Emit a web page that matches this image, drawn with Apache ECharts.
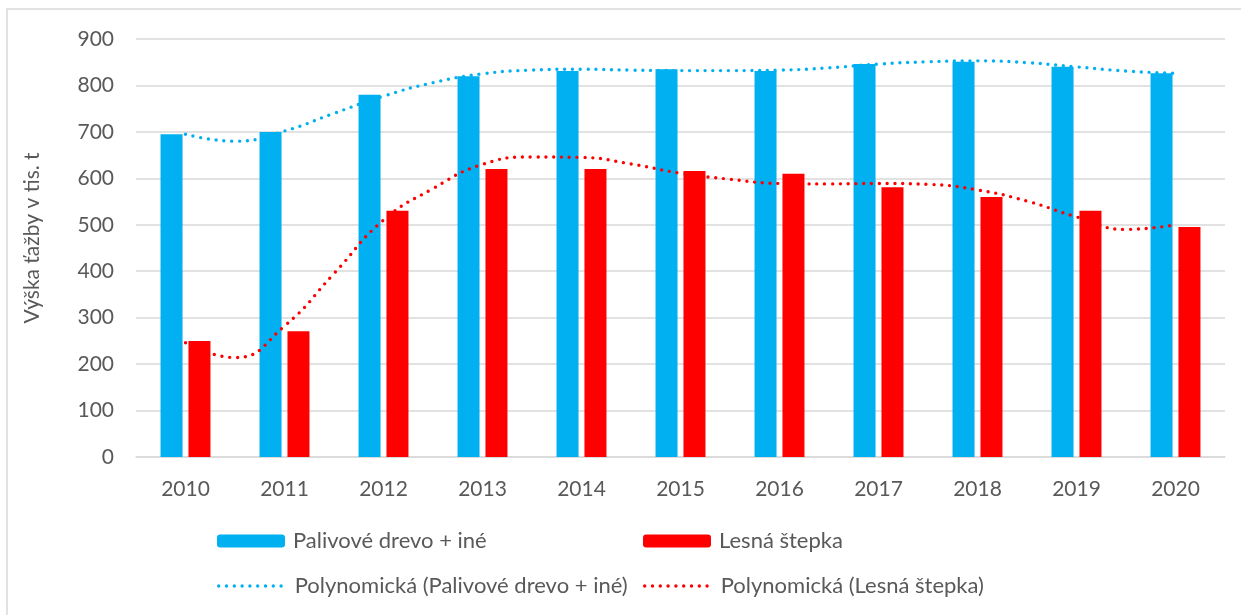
<!DOCTYPE html>
<html>
<head>
<meta charset="utf-8">
<script src="https://cdn.jsdelivr.net/npm/echarts@6/dist/echarts.min.js"></script>
<style>
  html, body { margin: 0; padding: 0; background: #fff; }
  #chart { width: 1241px; height: 615px; }
</style>
</head>
<body>
<div id="chart"></div>
<script>
// roky
var years = ['2010', '2011', '2012', '2013', '2014', '2015', '2016', '2017', '2018', '2019', '2020'];
// tis. t
var palivoveDrevo = [695, 700, 780, 820, 831, 835, 831, 846, 851, 840, 826];
var lesnaStepka = [250, 271, 530, 620, 620, 616, 610, 581, 560, 530, 495];
// polynomicke trendy odcitane z grafu (pozicia v kategoriach, krok 0.5)
var trendPos = [0, 0.5, 1, 1.5, 2, 2.5, 3, 3.5, 4, 4.5, 5, 5.5, 6, 6.5, 7, 7.5, 8, 8.5, 9, 9.5, 10];
var trendPalivove = [695, 680, 702, 740, 777, 806, 825, 833, 835, 833, 832, 832, 833, 838, 846, 851, 853, 849, 840, 831, 826];
var trendStepka = [246, 214, 282, 395, 510, 578, 630, 646, 645, 631, 611, 598, 589, 588, 589, 587, 575, 551, 517, 490, 500];
var yTicks = [0, 100, 200, 300, 400, 500, 600, 700, 800, 900];

var FONT = 'Lato';
var GREY = '#595959';
var BLUE = '#00B0F0';
var RED = '#FF0000';
var DOTS = [0, 7.8];

function pairs(xs, ys) {
    return xs.map(function (x, i) { return [x, ys[i]]; });
}

function legendAt(name, left, top, isLine) {
    var lg = {
        data: [name],
        left: left,
        top: top,
        padding: 0,
        itemWidth: 68,
        itemHeight: 13,
        selectedMode: false,
        textStyle: { fontFamily: FONT, fontSize: 22, color: GREY, padding: [0, 0, 0, 3] }
    };
    if (isLine) {
        // bez symbolu v strede, len bodkovana ciara
        lg.itemStyle = { opacity: 0 };
        lg.lineStyle = { width: 3.4, type: DOTS, cap: 'round' };
    }
    return lg;
}

var myChart = echarts.init(document.getElementById('chart'));
var option = {
    backgroundColor: '#fff',
    animation: false,
    graphic: [{
        type: 'rect',
        shape: { x: 7, y: 9, width: 1250, height: 620 },
        style: { fill: 'none', stroke: '#d9d9d9', lineWidth: 1.5 },
        silent: true
    }],
    legend: [
        legendAt('Palivové drevo + iné', 217, 530),
        legendAt('Lesná štepka', 643, 530),
        legendAt('Polynomická (Palivové drevo + iné)', 217, 575, true),
        legendAt('Polynomická (Lesná štepka)', 643, 575, true)
    ],
    grid: { left: 136, right: 16, top: 39, bottom: 158, containLabel: false },
    xAxis: [{
        type: 'category',
        data: years,
        axisTick: { show: false },
        axisLine: { lineStyle: { color: '#d9d9d9', width: 1.5 } },
        axisLabel: { fontFamily: FONT, fontSize: 21, color: GREY, margin: 22 }
    }, {
        type: 'value',
        min: -0.5,
        max: 10.5,
        show: false
    }],
    yAxis: {
        type: 'value',
        min: yTicks[0],
        max: yTicks[yTicks.length - 1],
        interval: 100,
        name: 'Výška ťažby v tis. t',
        nameLocation: 'middle',
        nameGap: 93,
        nameTextStyle: { fontFamily: FONT, fontSize: 21, color: GREY, padding: [0, 0, 0, 20] },
        axisLine: { show: false },
        axisTick: { show: false },
        axisLabel: { fontFamily: FONT, fontSize: 21, color: GREY, margin: 22 },
        splitLine: { lineStyle: { color: '#d9d9d9', width: 1.5 } }
    },
    series: [
        {
            name: 'Palivové drevo + iné',
            type: 'bar',
            data: palivoveDrevo,
            barWidth: 22,
            barGap: '27%',
            itemStyle: { color: BLUE }
        },
        {
            name: 'Lesná štepka',
            type: 'bar',
            data: lesnaStepka,
            barWidth: 22,
            barGap: '27%',
            itemStyle: { color: RED }
        },
        {
            name: 'Polynomická (Palivové drevo + iné)',
            type: 'line',
            xAxisIndex: 1,
            data: pairs(trendPos, trendPalivove),
            smooth: true,
            symbol: 'none',
            z: 5,
            itemStyle: { color: BLUE },
            lineStyle: { color: BLUE, width: 3.4, type: DOTS, cap: 'round' }
        },
        {
            name: 'Polynomická (Lesná štepka)',
            type: 'line',
            xAxisIndex: 1,
            data: pairs(trendPos, trendStepka),
            smooth: true,
            symbol: 'none',
            z: 5,
            itemStyle: { color: RED },
            lineStyle: { color: RED, width: 3.4, type: DOTS, cap: 'round' }
        }
    ]
};
myChart.setOption(option);
</script>
</body>
</html>
